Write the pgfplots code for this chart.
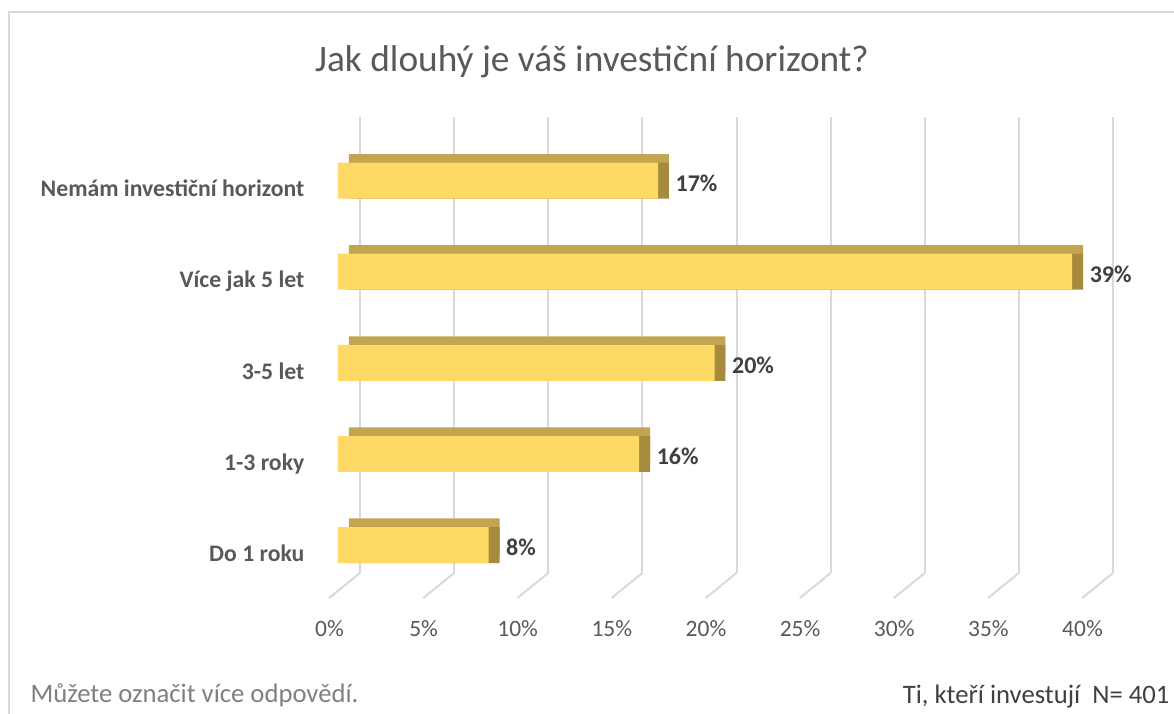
\documentclass[border=0pt]{standalone}
\usepackage{fontspec}
\setmainfont{Carlito}
\usepackage{pgfplots}
\pgfplotsset{compat=1.18}
\usetikzlibrary{calc}
\definecolor{framec}{HTML}{D9D9D9}
\definecolor{gridc}{HTML}{D9D9D9}
\definecolor{textc}{HTML}{595959}
\definecolor{labc}{HTML}{404040}
\definecolor{notec}{HTML}{7F7F7F}
\definecolor{frontc}{HTML}{FFD966}
\definecolor{topc}{HTML}{C4A54F}
\definecolor{sidec}{HTML}{A68B3C}

% sizes in pt; 1 px of the 1174x713 reference = 0.375pt
\begin{document}
\begin{tikzpicture}
  \useasboundingbox (0pt,0pt) rectangle (440.25pt,267.375pt);
  \draw[framec, line width=0.75pt] (3.375pt,-8pt) -- (3.375pt,262.875pt) -- (446pt,262.875pt);

  % back wall with its grid
  \begin{axis}[
    name=back, at={(135pt,52.5pt)}, anchor=south west,
    x=7.06pt, y=171pt,
    xmin=0, xmax=40, ymin=0, ymax=1,
    xtick={0,5,...,40}, xticklabels={}, ytick=\empty,
    xmajorgrids, grid style={line width=0.75pt, color=gridc},
    axis line style={draw=none}, major tick length=0pt,
  ]
  \end{axis}
  % floor lines
  \foreach \i in {0,...,8}
    \draw[gridc, line width=0.75pt] ($(back.south west)!\i/8!(back.south east)$) -- ++(-11.6pt,-9.4pt);

  \begin{axis}[
    at={(126.75pt,45.92pt)}, anchor=south west,
    x=7.06pt, y=34.16pt,
    xmin=0, xmax=40, ymin=-0.5, ymax=4.5,
    clip=false,
    axis line style={draw=none}, major tick length=0pt,
    xtick={0,5,...,40},
    xticklabels={0\%,5\%,10\%,15\%,20\%,25\%,30\%,35\%,40\%},
    xticklabel style={anchor=base, inner sep=0pt, xshift=-3.2pt, yshift=-17.3pt,
      font=\fontsize{8.8}{10}\selectfont, text=textc},
    ytick={0,...,4},
    yticklabels={Do 1 roku, 1-3 roky, 3-5 let, Více jak 5 let, Nemám investiční horizont},
    yticklabel style={anchor=base east, inner sep=0pt, xshift=-12.4pt, yshift=-6.1pt,
      font=\bfseries\fontsize{8.9}{10}\selectfont, text=textc},
    bar width=13.5pt,
  ]
    \addplot[xbar, bar shift=0pt, draw=none, fill=topc, xshift=4.1pt, yshift=3.2pt]
      coordinates {(8,0) (16,1) (20,2) (39,3) (17,4)};
    \addplot[xbar, bar shift=0pt, draw=none, fill=sidec, xshift=4.1pt]
      coordinates {(8,0) (16,1) (20,2) (39,3) (17,4)};
    \addplot[xbar, bar shift=0pt, draw=none, fill=frontc,
      point meta=x,
      nodes near coords={\pgfmathprintnumber[assume math mode=true]{\pgfplotspointmeta}\%},
      nodes near coords style={anchor=west, inner sep=0pt, xshift=6.4pt, yshift=-1pt,
        font=\bfseries\fontsize{9}{10}\selectfont, text=labc}]
      coordinates {(8,0) (16,1) (20,2) (39,3) (17,4)};
  \end{axis}

  \node[anchor=base, text=textc, font=\fontsize{14}{16}\selectfont] at (222pt,240.75pt)
    {Jak dlouhý je váš investiční horizont?};
  \node[anchor=base west, inner sep=0pt, text=notec, font=\fontsize{10}{12}\selectfont] at (11.25pt,4.1pt)
    {Můžete označit více odpovědí.};
  \node[anchor=base east, inner sep=0pt, text=labc, font=\fontsize{10}{12}\selectfont] at (438.75pt,3.75pt)
    {Ti, kteří investují\ \ N= 401};
\end{tikzpicture}
\end{document}
